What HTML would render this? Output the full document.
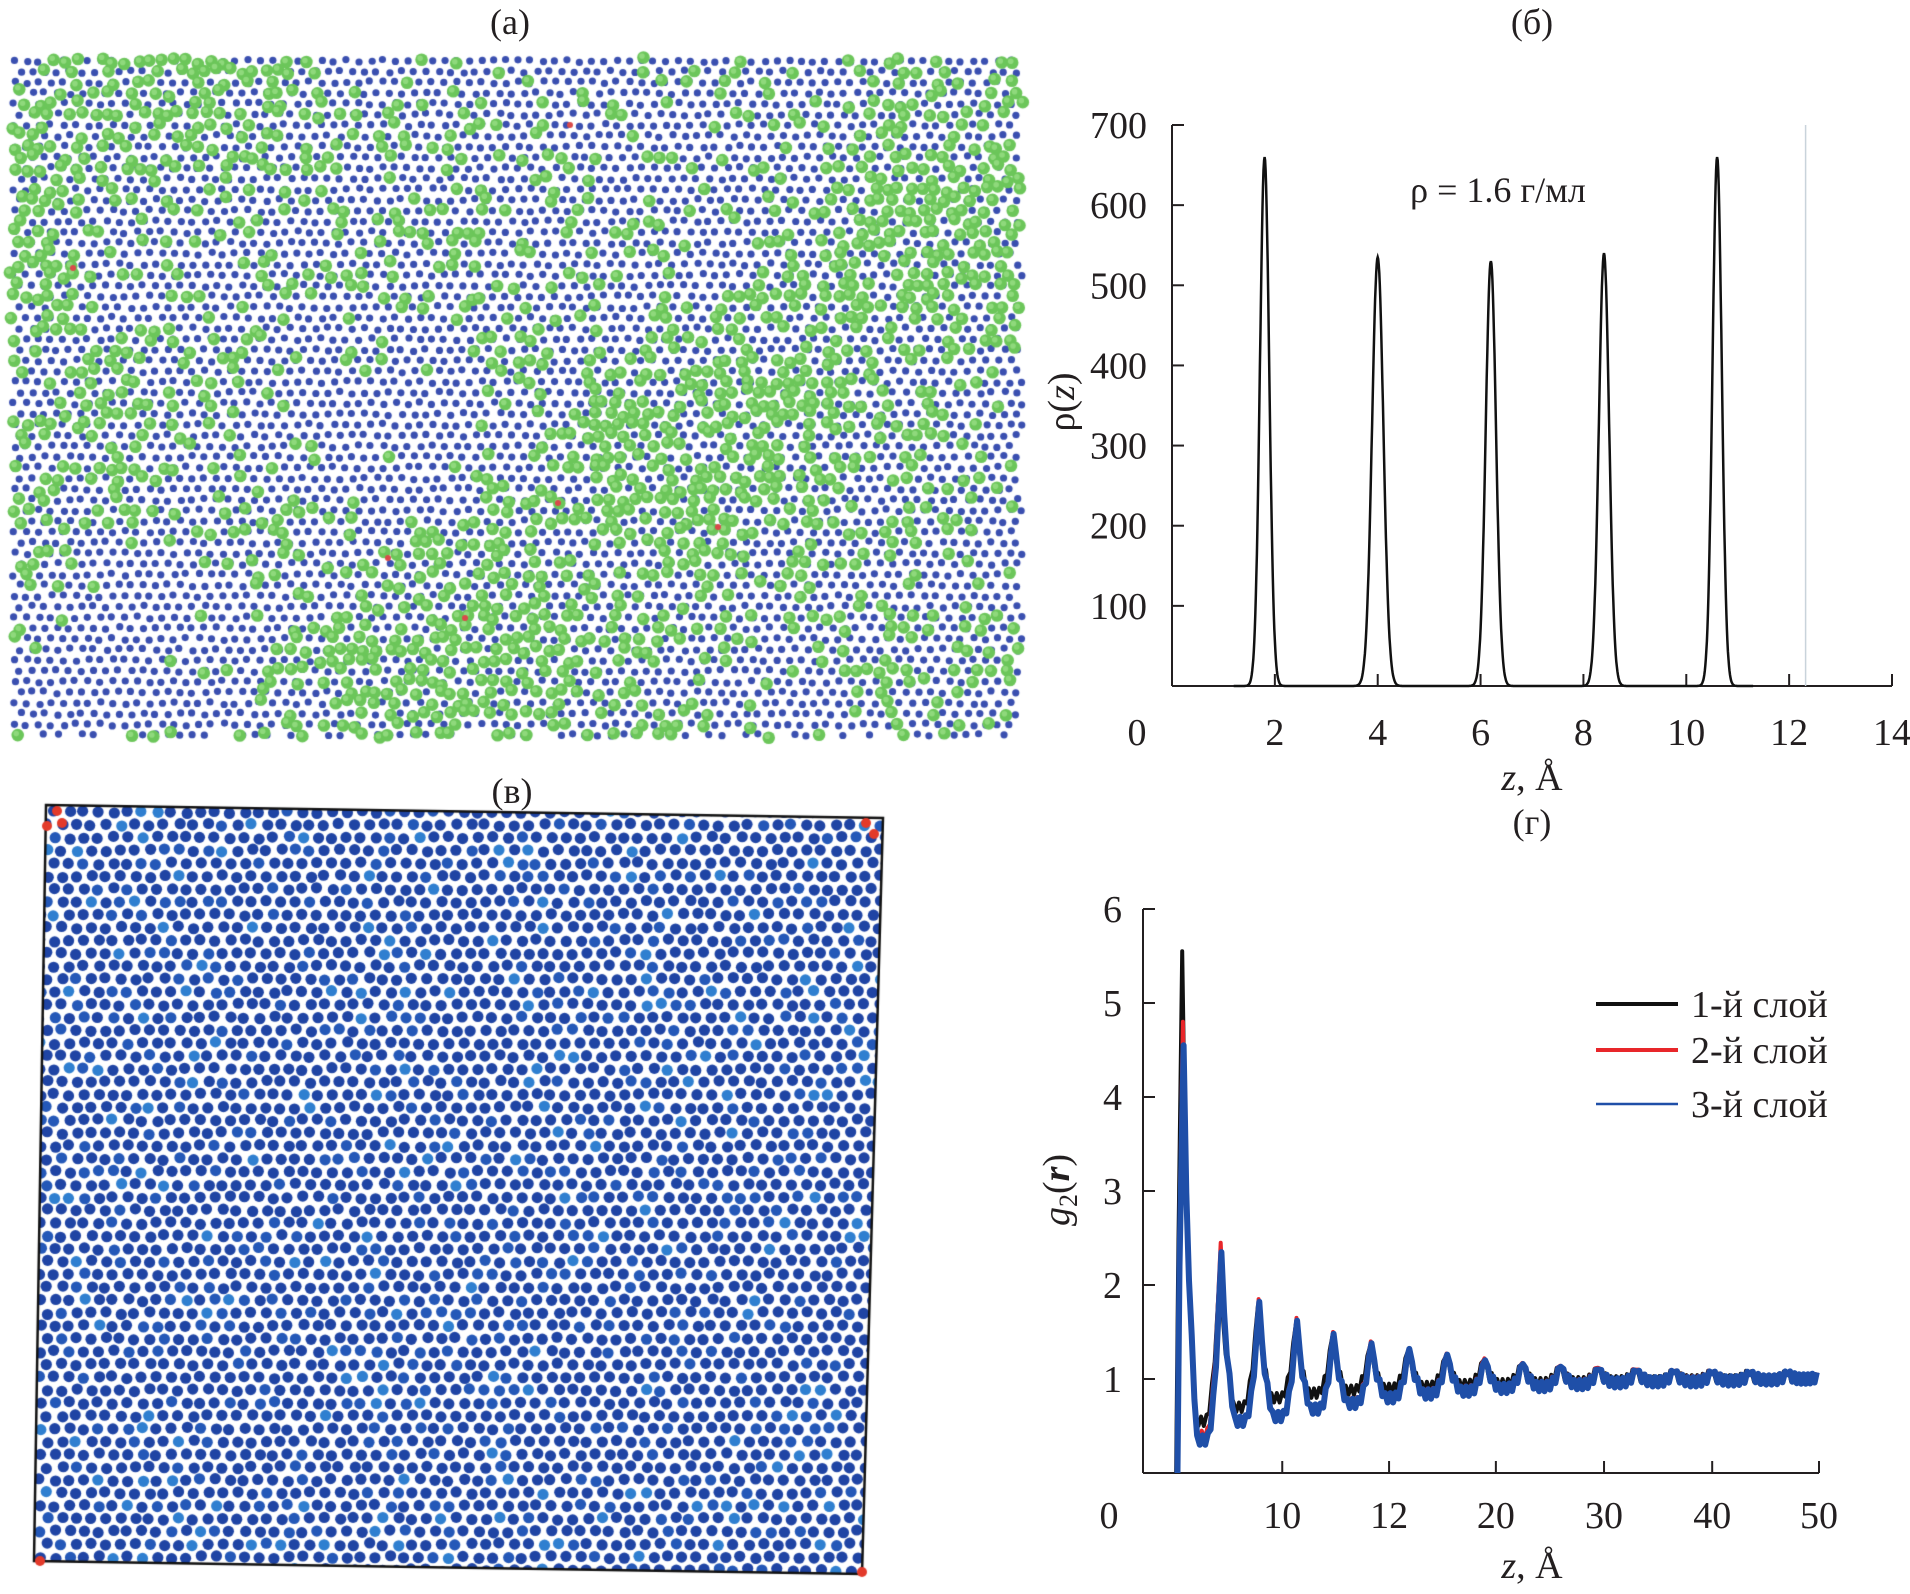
<!DOCTYPE html>
<html><head><meta charset="utf-8">
<style>
html,body{margin:0;padding:0;background:#fff;}
body{width:1910px;height:1594px;position:relative;overflow:hidden;font-family:"Liberation Serif",serif;}
canvas,svg{position:absolute;left:0;top:0;}
text{font-family:"Liberation Serif","DejaVu Serif",serif;fill:#231f20;}
</style></head>
<body>
<canvas id="pics" width="1910" height="1594"></canvas>
<svg id="svg" width="1910" height="1594" font-family="Liberation Serif, serif">
  <text font-family="Liberation Serif, serif" x="510" y="34" font-size="36" text-anchor="middle">(а)</text>
  <text font-family="Liberation Serif, serif" x="1532" y="34" font-size="36" text-anchor="middle">(б)</text>
  <text font-family="Liberation Serif, serif" x="512" y="803" font-size="36" text-anchor="middle">(в)</text>
  <text font-family="Liberation Serif, serif" x="1532" y="834" font-size="36" text-anchor="middle">(г)</text>
  <g id="chartB"></g>
  <g id="chartG"></g>
</svg>
<script>
// ---------- Chart б data ----------
const bPeakCenters = [1.8, 4.0, 6.2, 8.4, 10.6];
const bPeakHeights = [660, 535, 530, 540, 660];
const bPeakWidths = [0.09, 0.11, 0.1, 0.1, 0.09];
const bXTicks = [0, 2, 4, 6, 8, 10, 12, 14];
const bYTicks = [100, 200, 300, 400, 500, 600, 700];
// ---------- Chart г data ----------
const gXTickPos = [10.3, 18.2, 26.1, 34.1, 42.1, 50];
const gXTickLabels = ['10', '12', '20', '30', '40', '50'];
const gYTicks = [1, 2, 3, 4, 5, 6];
const gPeakR = [2.9, 5.7, 8.5, 11.3, 14.0, 16.8, 19.6, 22.4, 25.2, 28.0, 30.8, 33.6, 36.4, 39.2, 42.0, 44.8, 47.6];
const gPeaksBlack = [5.55, 2.2, 1.78, 1.58, 1.45, 1.35, 1.3, 1.24, 1.2, 1.15, 1.12, 1.1, 1.08, 1.07, 1.06, 1.06, 1.05];
const gPeaksRed = [4.8, 2.45, 1.85, 1.65, 1.5, 1.4, 1.32, 1.27, 1.22, 1.17, 1.14, 1.12, 1.1, 1.08, 1.07, 1.06, 1.05];
const gPeaksBlue = [4.55, 2.35, 1.82, 1.62, 1.48, 1.38, 1.32, 1.26, 1.2, 1.16, 1.13, 1.1, 1.08, 1.07, 1.06, 1.05, 1.05];
const gTroughBlack = [0.55, 0.7, 0.8, 0.85, 0.88, 0.9, 0.92, 0.94, 0.95, 0.96, 0.97, 0.98, 0.98, 0.99, 0.99, 0.99, 1.0];
const gTroughRed = [0.4, 0.55, 0.6, 0.68, 0.75, 0.8, 0.85, 0.88, 0.9, 0.93, 0.95, 0.96, 0.97, 0.98, 0.98, 0.99, 1.0];
const gTroughBlue = [0.35, 0.55, 0.6, 0.68, 0.74, 0.8, 0.84, 0.87, 0.9, 0.92, 0.94, 0.96, 0.97, 0.97, 0.98, 0.99, 1.0];
const gSeriesNames = ['1-й слой', '2-й слой', '3-й слой'];

const NS = 'http://www.w3.org/2000/svg';
const SERIF = 'Liberation Serif, serif';
function mk(tag, attrs, parent, txt) {
  const e = document.createElementNS(NS, tag);
  for (const k in attrs) e.setAttribute(k, attrs[k]);
  if (tag === 'text') { e.setAttribute('font-family', SERIF); e.setAttribute('fill', '#231f20'); }
  if (txt !== undefined) e.textContent = txt;
  parent.appendChild(e);
  return e;
}

// ---------- Chart б ----------
(function () {
  const g = document.getElementById('chartB');
  const L = 1172, R = 1892, T = 125, B = 686;
  const x = v => L + v / 14 * (R - L);
  const y = v => B - v / 700 * (B - T);
  let e = mk('line', {x1: L, y1: T, x2: L, y2: B, stroke: '#231f20', 'stroke-width': 2}, g);
   
  e = mk('line', {x1: L, y1: B, x2: R, y2: B, stroke: '#231f20', 'stroke-width': 2}, g);
   
  e = mk('line', {x1: x(12.32), y1: T, x2: x(12.32), y2: B, stroke: '#c9d3db', 'stroke-width': 1.5}, g);
   
  bYTicks.forEach(v => {
    const l = mk('line', {x1: L, y1: y(v), x2: L + 12, y2: y(v), stroke: '#231f20', 'stroke-width': 2}, g);
     
    const t = mk('text', {x: 1147, y: y(v) + 13, 'font-size': 38, 'text-anchor': 'end'}, g, String(v));
     
  });
  bXTicks.forEach(v => {
    if (v > 0) {
      const l = mk('line', {x1: x(v), y1: B, x2: x(v), y2: B - 12, stroke: '#231f20', 'stroke-width': 2}, g);
       
    }
    const xx = v === 0 ? 1137 : x(v);
    const t = mk('text', {x: xx, y: 745, 'font-size': 38, 'text-anchor': 'middle'}, g, String(v));
     
  });
  let d = '';
  for (let z = 1.2; z <= 11.3; z += 0.01) {
    let v = 0;
    for (let i = 0; i < bPeakCenters.length; i++) {
      const u = (z - bPeakCenters[i]) / bPeakWidths[i];
      v += bPeakHeights[i] * Math.exp(-0.5 * u * u);
    }
    d += (d ? 'L' : 'M') + x(z).toFixed(1) + ',' + y(v).toFixed(1);
  }
  e = mk('path', {d: d, fill: 'none', stroke: '#111', 'stroke-width': 2.5}, g);
   
  e = mk('text', {x: 1498, y: 202, 'font-size': 36, 'text-anchor': 'middle'}, g, 'ρ = 1.6 г/мл');
   
  e = mk('text', {x: 1532, y: 790, 'font-size': 38, 'text-anchor': 'middle'}, g);
  e.innerHTML = '<tspan font-style="italic">z</tspan>, Å';
   
  e = mk('text', {x: 0, y: 0, 'font-size': 38, 'text-anchor': 'middle', transform: 'translate(1074,402) rotate(-90)'}, g);
  e.innerHTML = 'ρ(<tspan font-style="italic">z</tspan>)';
   
})();

// ---------- Chart г ----------
(function () {
  const g = document.getElementById('chartG');
  const L = 1143, R = 1819, T = 909, B = 1473;
  const x = v => L + v / 50 * (R - L);
  const y = v => B - v / 6 * (B - T);
  let e = mk('line', {x1: L, y1: T, x2: L, y2: B, stroke: '#231f20', 'stroke-width': 2}, g);
   
  e = mk('line', {x1: L, y1: B, x2: R, y2: B, stroke: '#231f20', 'stroke-width': 2}, g);
   
  gYTicks.forEach(v => {
    const l = mk('line', {x1: L, y1: y(v), x2: L + 12, y2: y(v), stroke: '#231f20', 'stroke-width': 2}, g);
     
    const t = mk('text', {x: 1122, y: y(v) + 13, 'font-size': 38, 'text-anchor': 'end'}, g, String(v));
     
  });
  let t0 = mk('text', {x: 1109, y: 1528, 'font-size': 38, 'text-anchor': 'middle'}, g, '0');
   
  gXTickPos.forEach((v, i) => {
    const l = mk('line', {x1: x(v), y1: B, x2: x(v), y2: B - 12, stroke: '#231f20', 'stroke-width': 2}, g);
     
    const t = mk('text', {x: x(v), y: 1528, 'font-size': 38, 'text-anchor': 'middle'}, g, gXTickLabels[i]);
     
  });
  function series(peaks, troughs, shift) {
    let d = 'M' + x(2.45 + shift) + ',' + y(0) + 'L' + x(2.6 + shift) + ',' + y(2.2);
    for (let i = 0; i < gPeakR.length; i++) {
      const r = gPeakR[i] + shift;
      d += 'L' + x(r).toFixed(1) + ',' + y(peaks[i]).toFixed(1);
      const tr = troughs[i];
      const rn = i + 1 < gPeakR.length ? gPeakR[i + 1] + shift : 50;
      const span = rn - r;
      const steps = 14;
      for (let k = 1; k < steps; k++) {
        const f = k / steps;
        let v;
        const nxt = (i + 1 < peaks.length) ? peaks[i + 1] : 1.03;
        if (f < 0.35) v = peaks[i] + (tr - peaks[i]) * Math.pow(f / 0.35, 0.6);
        else if (f < 0.6) v = tr;
        else v = tr + (nxt - tr) * Math.pow((f - 0.6) / 0.4, 2);
        const jit = (k % 2 ? 1 : -1) * 0.05;
        d += 'L' + x(r + span * f).toFixed(1) + ',' + y(v + jit).toFixed(1);
      }
    }
    return d;
  }
  const cols = ['#111111', '#e8262a', '#1f4fa8'];
  const widths = [4, 4, 6];
  const P = [gPeaksBlack, gPeaksRed, gPeaksBlue];
  const Tr = [gTroughBlack, gTroughRed, gTroughBlue];
  const shifts = [0, 0.05, 0.1];
  for (let s = 0; s < 3; s++) {
    const p = mk('path', {d: series(P[s], Tr[s], shifts[s]), fill: 'none', stroke: cols[s], 'stroke-width': widths[s], 'stroke-linejoin': 'round'}, g);
    
    
  }
  const ly = [1004, 1050, 1104];
  for (let s = 0; s < 3; s++) {
    const l = mk('line', {x1: 1596, y1: ly[s], x2: 1678, y2: ly[s], stroke: cols[s], 'stroke-width': s === 2 ? 2.5 : 4}, g);
    
    
    const t = mk('text', {x: 1691, y: ly[s] + 13, 'font-size': 38}, g, gSeriesNames[s]);
    
    
  }
  e = mk('text', {x: 1532, y: 1578, 'font-size': 38, 'text-anchor': 'middle'}, g);
  e.innerHTML = '<tspan font-style="italic">z</tspan>, Å';
   
  e = mk('text', {x: 0, y: 0, 'font-size': 38, 'text-anchor': 'middle', transform: 'translate(1069,1190) rotate(-90)'}, g);
  e.innerHTML = '<tspan font-style="italic">g</tspan><tspan font-size="26" dy="8">2</tspan><tspan dy="-8">(</tspan><tspan font-style="italic" font-weight="bold">r</tspan>)';
   
})();

// ---------- Snapshot pictures ----------
(function () {
  const c = document.getElementById('pics').getContext('2d');
  let seed = 12345;
  const rnd = () => { seed = (seed * 1103515245 + 12345) & 0x7fffffff; return seed / 0x7fffffff; };
  function dot(x, y, r, col) { c.beginPath(); c.arc(x, y, r, 0, 6.2832); c.fillStyle = col; c.fill(); }
  const ax0 = 10, ax1 = 1022, ay0 = 57, ay1 = 736, sp = 12.3;
  const greens = [];
  for (let j = 0; ay0 + j * sp * 0.87 < ay1; j++) {
    for (let i = 0; ax0 + i * sp < ax1; i++) {
      const x = ax0 + 4 + i * sp + (j % 2) * sp / 2 + (rnd() - 0.5) * 3;
      const y = ay0 + 4 + j * sp * 0.87 + (rnd() - 0.5) * 3;
      if (x > ax1 || y > ay1) continue;
      dot(x, y, 3.6, '#3a4fb0');
      const zone = Math.sin(x / 90) * Math.cos(y / 70) + Math.sin((x + y) / 150);
      if (rnd() < 0.3 + 0.18 * zone) greens.push([x + (rnd() - 0.5) * 6, y + (rnd() - 0.5) * 6]);
    }
  }
  greens.forEach(p => { dot(p[0], p[1], 6.3, '#6cc65a'); dot(p[0] - 1.5, p[1] - 1.5, 2.8, '#8fd97c'); });
  [[570, 125], [73, 268], [558, 503], [718, 527], [388, 558], [465, 618]].forEach(p => dot(p[0], p[1], 3, '#d94a4a'));
  c.save();
  c.beginPath(); c.moveTo(46, 805); c.lineTo(883, 818); c.lineTo(862, 1574); c.lineTo(34, 1561); c.closePath();
  c.clip();
  const bs = 14.6;
  for (let j = 0; j < 60; j++) {
    for (let i = 0; i < 62; i++) {
      const x = 40 + i * bs + (j % 2) * bs / 2 + (rnd() - 0.5) * 3;
      const y = 812 + j * bs * 0.88 + (rnd() - 0.5) * 3;
      const rr = rnd();
      const col = rr < 0.06 ? '#2f7fd0' : (rr < 0.2 ? '#2458b8' : '#1f44a4');
      dot(x, y, 5.6, col);
    }
  }
  c.restore();
  c.beginPath(); c.moveTo(46, 805); c.lineTo(883, 818); c.lineTo(862, 1574); c.lineTo(34, 1561); c.closePath();
  c.strokeStyle = '#111'; c.lineWidth = 2.5; c.stroke();
  [[57, 811], [47, 826], [62, 823], [866, 823], [874, 834], [40, 1561], [862, 1572]].forEach(p => dot(p[0], p[1], 5, '#e33a2a'));
})();
</script>
</body></html>
